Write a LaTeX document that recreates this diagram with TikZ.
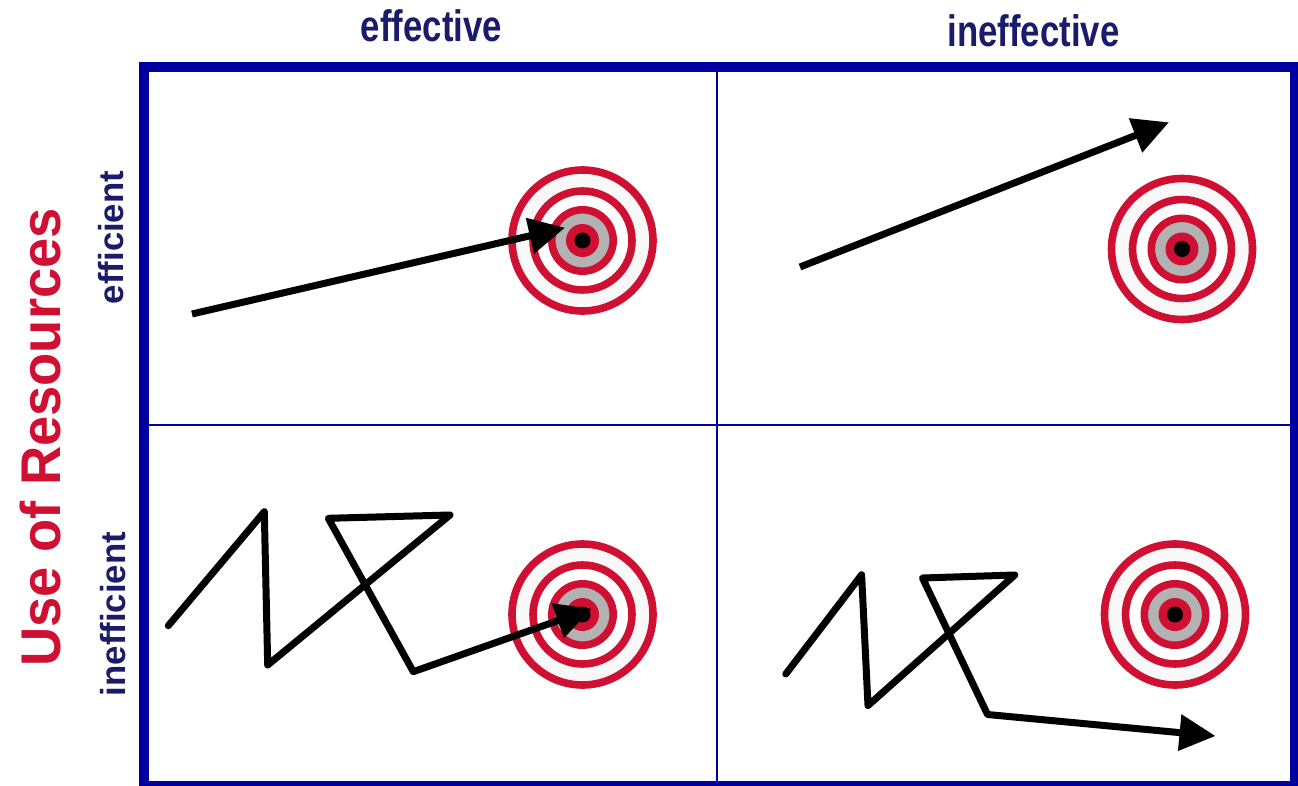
\documentclass[tikz,border=0pt]{standalone}
\usepackage{fontspec}
\setmainfont{Liberation Sans}
\usetikzlibrary{arrows.meta}
\definecolor{framec}{HTML}{0000A0}
\definecolor{labelc}{HTML}{1B1B6C}
\definecolor{redc}{HTML}{CF1033}
\definecolor{greyc}{HTML}{B2B2B2}
\definecolor{paper}{HTML}{F8F8F8}
\tikzset{axis/.style={font=\bfseries\fontsize{44}{44}\selectfont,text=labelc,inner sep=0pt,anchor=base,xscale=.79},
  sidelabel/.style={axis,rotate=90,xscale=.79},
  title/.style={font=\bfseries\fontsize{56}{56}\selectfont,text=redc,inner sep=0pt,anchor=base,rotate=90,xscale=.97},
  ring/.style={draw=redc,line width=7.6pt},
  shot/.style={line width=7pt,draw=black,-{Triangle[length=36pt,width=35pt]}},
  zigzag/.style={shot,line cap=round,line join=round}}

\begin{document}
\begin{tikzpicture}[x=1pt,y=-1pt]
\useasboundingbox (0,0) rectangle (1298,786);
\clip (0,0) rectangle (1298,786);
\fill[white] (0,0) rectangle (1298,786);
% grid
\draw[framec,line width=2pt] (717,67)--(717,786);
\draw[framec,line width=2pt] (144,424.5)--(1295,424.5);
\draw[framec,line width=10pt] (144,67) rectangle (1295,786);
% labels
\node[axis] (effective) at (431.5,41.3) {effective};
\node[axis] (ineffective) at (1033.5,46.3) {ineffective};
\node[sidelabel] (efficient) at (123.7,237.5) {efficient};
\node[sidelabel] (inefficient) at (125.7,614) {inefficient};
\node[title] (resources) at (60,437.5) {Use of Resources};
% targets
\foreach \x/\y in {582.5/240.5,1182/249,582.5/614.5,1175/614.5}{
 \draw[ring,fill=paper] (\x,\y) circle (70.5pt);
 \draw[ring,fill=white] (\x,\y) circle (49.5pt);
 \draw[ring,fill=greyc] (\x,\y) circle (30.7pt);
 \fill[redc] (\x,\y) circle (16.5pt);
 \fill[black] (\x,\y) circle (8pt);
}
% arrows
\draw[shot] (192,314)--(565,227.7);
\draw[shot] (800,267)--(1169,122.3);
\draw[zigzag] (168.3,625.7)--(264.3,511.7)--(267.7,665)--(450,515)--(328.3,518.3)--(413.3,671.7)--(591.7,608.7);
\draw[zigzag] (785.8,674)--(861.6,574.8)--(868,705.5)--(1014.8,575)--(922.5,578)--(987.5,714.5)--(1215.5,736);
\end{tikzpicture}
\end{document}
